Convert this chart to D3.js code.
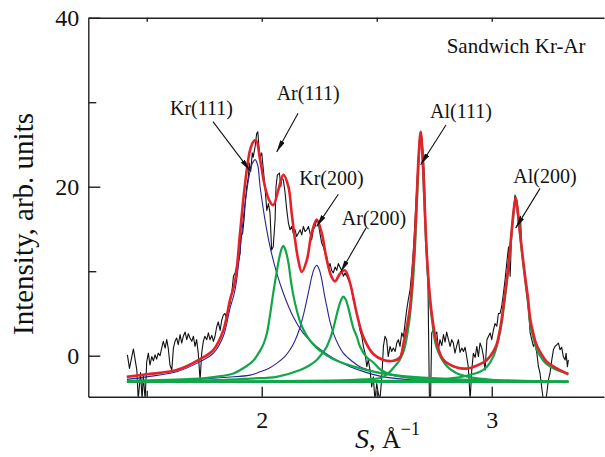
<!DOCTYPE html>
<html>
<head>
<meta charset="utf-8">
<script src="https://cdn.jsdelivr.net/npm/d3@7"></script>
<style>
  body { margin: 0; background: #fff; }
  text { font-family: "Liberation Serif", "Times New Roman", serif; fill: #111; }
</style>
</head>
<body>
<svg id="chart" width="605" height="457"></svg>
<script>
// ---- data: [S (1/Å), intensity] ----
const experiment = [
  [1.416,0.1],[1.425,-1.5],[1.442,0.8],[1.457,-1.7],[1.463,-5.2],[1.473,-2.0],[1.480,-5.2],[1.485,-2.3],[1.493,-5.2],[1.500,-0.7],
  [1.507,0.3],[1.514,-1.1],[1.522,-0.1],[1.529,-0.6],[1.536,0.1],[1.543,-0.4],[1.550,0.3],[1.558,0.0],[1.565,0.9],[1.572,1.7],
  [1.580,0.9],[1.587,1.9],[1.594,0.8],[1.601,-1.1],[1.609,-1.7],[1.616,0.9],[1.623,1.7],[1.630,2.1],[1.637,1.3],[1.645,2.5],
  [1.652,1.5],[1.659,2.3],[1.667,2.8],[1.674,1.9],[1.681,2.6],[1.688,2.1],[1.696,1.7],[1.703,2.3],[1.710,1.1],[1.717,1.9],
  [1.724,0.3],[1.732,-2.9],[1.739,0.3],[1.746,1.7],[1.753,2.3],[1.761,1.9],[1.768,2.7],[1.775,1.9],[1.783,2.4],[1.790,1.7],
  [1.797,2.3],[1.804,3.4],[1.811,4.0],[1.819,3.0],[1.826,4.2],[1.833,4.8],[1.840,5.0],[1.848,4.3],[1.855,5.8],[1.862,6.2],
  [1.870,7.5],[1.877,9.4],[1.884,9.8],[1.891,10.5],[1.898,11.0],[1.906,12.1],[1.909,14.1],[1.917,14.5],[1.923,16.1],[1.928,18.0],
  [1.935,20.0],[1.942,21.2],[1.946,22.8],[1.952,21.8],[1.959,24.0],[1.963,23.5],[1.971,24.7],[1.978,26.3],[1.983,26.5],[1.988,24.7],
  [1.993,23.5],[2.000,24.0],[2.007,22.0],[2.014,20.0],[2.022,17.2],[2.029,18.0],[2.036,16.9],[2.043,12.5],[2.050,12.9],[2.058,16.1],
  [2.062,20.0],[2.068,21.4],[2.077,21.6],[2.083,20.0],[2.087,21.0],[2.094,20.8],[2.101,19.4],[2.109,17.2],[2.116,15.7],[2.123,14.9],
  [2.130,15.3],[2.137,14.5],[2.145,14.9],[2.152,14.1],[2.159,14.5],[2.167,14.9],[2.174,14.3],[2.181,15.3],[2.188,14.7],[2.196,14.9],
  [2.203,15.3],[2.210,14.5],[2.217,13.7],[2.224,14.9],[2.232,15.3],[2.239,16.1],[2.246,15.7],[2.253,14.5],[2.261,13.3],[2.268,12.9],
  [2.275,12.1],[2.283,11.7],[2.290,10.5],[2.297,10.9],[2.304,10.1],[2.311,9.8],[2.319,10.5],[2.326,10.1],[2.333,10.9],[2.340,10.5],
  [2.348,10.1],[2.355,9.4],[2.362,9.8],[2.370,9.4],[2.377,9.0],[2.384,8.6],[2.391,7.8],[2.398,6.6],[2.406,5.8],[2.413,5.0],
  [2.420,4.2],[2.427,3.0],[2.435,2.3],[2.442,1.1],[2.449,0.3],[2.457,-1.3],[2.463,-0.5],[2.471,-1.7],[2.478,-3.7],[2.485,-2.5],
  [2.492,-5.2],[2.500,-3.3],[2.507,-4.5],[2.514,-5.2],[2.522,-2.5],[2.529,1.1],[2.536,2.3],[2.543,1.9],[2.550,-0.1],[2.558,1.1],
  [2.565,0.5],[2.572,0.9],[2.580,0.5],[2.587,1.5],[2.594,1.9],[2.601,1.1],[2.609,2.7],[2.616,2.2],[2.623,3.8],[2.630,5.4],
  [2.637,6.6],[2.645,7.8],[2.653,10.1],[2.662,13.7],[2.671,18.4],[2.680,23.2],[2.688,26.3],[2.695,26.0],[2.701,24.3],[2.708,20.8],
  [2.712,14.9],[2.719,10.5],[2.723,7.8],[2.729,-5.2],[2.734,-5.2],[2.739,2.7],[2.746,3.0],[2.754,2.5],[2.761,2.8],[2.768,0.7],
  [2.775,1.9],[2.783,1.2],[2.790,2.5],[2.797,1.6],[2.804,2.8],[2.811,2.0],[2.819,1.1],[2.826,1.9],[2.833,1.5],[2.840,0.3],
  [2.848,1.2],[2.855,1.9],[2.862,0.4],[2.870,0.9],[2.877,0.5],[2.884,1.0],[2.891,-0.1],[2.898,-1.3],[2.906,-5.2],[2.913,-1.7],
  [2.920,0.3],[2.928,-0.2],[2.935,1.1],[2.942,-0.1],[2.949,1.5],[2.957,0.9],[2.964,-0.1],[2.971,-1.7],[2.979,1.9],[2.986,2.3],
  [2.993,2.7],[3.000,1.9],[3.007,3.0],[3.014,3.8],[3.022,3.5],[3.029,5.0],[3.036,5.0],[3.043,5.8],[3.051,7.4],[3.058,9.0],
  [3.065,10.9],[3.073,12.9],[3.080,9.4],[3.087,14.9],[3.094,16.9],[3.101,19.0],[3.109,18.4],[3.116,16.9],[3.120,15.7],[3.125,16.5],
  [3.130,12.9],[3.138,10.5],[3.145,9.0],[3.152,7.4],[3.160,5.4],[3.167,2.7],[3.174,1.9],[3.181,1.1],[3.188,1.5],[3.196,0.3],
  [3.203,-1.3],[3.210,-2.1],[3.217,-3.7],[3.224,-5.2],[3.236,-5.2],[3.246,-2.9],[3.253,-2.1],[3.261,-0.5],[3.268,0.7],[3.275,1.1],
  [3.283,1.3],[3.290,1.5],[3.297,0.7],[3.304,1.0],[3.311,-0.1],[3.319,-0.5],[3.323,0.3],[3.329,-1.3],[3.333,-0.5]
];

const totalFit = [
  [1.413,-2.5],[1.5,-2.2],[1.63,-1.7],[1.732,-0.4],[1.79,0.7],[1.833,3.0],[1.862,6.6],[1.884,8.8],[1.906,14.6],[1.92,18.5],
  [1.935,22.0],[1.949,24.3],[1.963,25.3],[1.975,25.5],[1.993,23.2],[2.014,20.0],[2.036,18.2],[2.05,17.8],[2.072,19.6],[2.094,21.4],
  [2.116,20.0],[2.13,16.9],[2.145,13.7],[2.159,11.3],[2.174,9.9],[2.196,11.3],[2.217,14.5],[2.239,16.1],[2.261,14.5],[2.283,11.3],
  [2.304,9.3],[2.319,8.8],[2.34,9.7],[2.362,10.1],[2.384,8.6],[2.413,5.0],[2.442,2.2],[2.485,0.2],[2.529,-0.5],[2.572,-0.6],
  [2.601,-0.2],[2.616,1.4],[2.63,3.3],[2.645,5.8],[2.655,9.5],[2.664,13.0],[2.674,18.8],[2.682,23.6],[2.691,26.5],[2.699,23.8],
  [2.707,18.8],[2.717,12.4],[2.727,8.3],[2.74,4.8],[2.76,1.6],[2.79,-0.5],[2.848,-1.4],[2.898,-1.5],[2.949,-1.0],[2.979,-0.5],
  [3.007,0.5],[3.022,1.4],[3.03,2.3],[3.043,4.3],[3.055,6.8],[3.068,9.6],[3.08,12.8],[3.09,15.8],[3.097,17.6],[3.104,18.7],
  [3.111,17.6],[3.118,15.8],[3.13,12.8],[3.145,9.4],[3.158,6.7],[3.167,4.4],[3.181,2.6],[3.196,1.2],[3.225,-0.2],[3.239,-0.7],
  [3.283,-1.5],[3.333,-2.2]
];

const kr111Fit = [
  [1.414,-2.8],[1.5,-2.5],[1.63,-1.9],[1.732,-0.7],[1.79,0.3],[1.833,2.3],[1.862,5.6],[1.884,7.8],[1.906,12.5],[1.92,16.3],
  [1.935,19.5],[1.949,21.8],[1.96,22.8],[1.971,23.2],[1.982,22.6],[1.993,20.0],[2.014,16.1],[2.036,12.9],[2.065,9.8],[2.094,7.4],
  [2.137,4.6],[2.181,2.65],[2.239,1.07],[2.311,-0.3],[2.384,-1.3],[2.457,-2.0],[2.529,-2.5],[2.65,-2.85],[2.85,-3.0],[3.333,-3.08]
];

const kr200Fit = [
  [1.414,-3.0],[1.7,-2.8],[1.85,-2.55],[1.949,-2.3],[1.993,-1.9],[2.03,-1.5],[2.065,-0.9],[2.1,-0.1],[2.123,0.7],[2.145,1.8],
  [2.167,3.4],[2.182,4.9],[2.196,6.6],[2.207,8.0],[2.217,9.3],[2.228,10.3],[2.239,10.7],[2.25,10.2],[2.261,9.0],[2.272,7.3],
  [2.283,5.8],[2.297,4.0],[2.311,2.7],[2.333,1.3],[2.355,0.3],[2.39,-0.6],[2.427,-1.3],[2.48,-1.8],[2.529,-2.1],[2.6,-2.45],
  [2.75,-2.8],[3.0,-3.0],[3.333,-3.08]
];

const ar111Fit = [
  [1.414,-3.0],[1.7,-2.75],[1.8,-2.5],[1.877,-2.1],[1.93,-1.3],[1.963,-0.6],[1.993,0.6],[2.008,1.4],[2.022,2.6],[2.036,4.8],
  [2.05,7.4],[2.065,9.9],[2.078,11.8],[2.087,12.7],[2.094,13.0],[2.102,12.6],[2.116,11.0],[2.126,9.0],[2.137,7.2],[2.152,5.4],
  [2.167,4.0],[2.188,2.7],[2.21,1.8],[2.24,0.9],[2.268,0.3],[2.31,-0.4],[2.355,-0.9],[2.457,-1.7],[2.55,-2.2],[2.7,-2.6],
  [2.9,-2.85],[3.333,-3.05]
];

const ar200Fit = [
  [1.414,-3.05],[1.8,-2.9],[1.95,-2.7],[2.065,-2.5],[2.167,-1.7],[2.21,-1.1],[2.239,-0.5],[2.261,0.2],[2.283,1.1],[2.297,2.0],
  [2.311,3.2],[2.333,5.6],[2.345,6.6],[2.355,7.0],[2.366,6.6],[2.377,5.6],[2.398,3.3],[2.413,2.3],[2.427,1.1],[2.457,-0.2],
  [2.485,-0.8],[2.514,-1.6],[2.558,-2.2],[2.6,-2.45],[2.7,-2.75],[2.9,-2.95],[3.333,-3.08]
];

const al111Fit = [
  [1.414,-3.1],[2.3,-2.95],[2.45,-2.8],[2.52,-2.6],[2.55,-2.1],[2.58,-1.2],[2.6,-0.5],[2.62,0.8],[2.64,3.8],[2.655,7.8],
  [2.665,12.0],[2.675,18.3],[2.683,23.3],[2.691,26.5],[2.699,23.3],[2.707,18.3],[2.717,12.0],[2.727,7.8],[2.74,4.3],[2.76,1.0],
  [2.8,-1.1],[2.85,-2.1],[2.9,-2.5],[3.0,-2.85],[3.333,-3.05]
];

const al200Fit = [
  [1.414,-3.1],[2.5,-3.0],[2.75,-2.85],[2.85,-2.6],[2.9,-2.3],[2.949,-1.9],[2.979,-1.3],[3.007,-0.1],[3.03,2.0],[3.043,3.8],
  [3.055,6.3],[3.068,9.2],[3.08,12.5],[3.09,15.5],[3.097,17.3],[3.104,18.6],[3.111,17.3],[3.118,15.5],[3.13,12.5],[3.145,9.0],
  [3.158,6.2],[3.167,3.8],[3.181,2.1],[3.196,0.7],[3.225,-0.6],[3.239,-1.0],[3.283,-1.7],[3.333,-2.1]
];

const background = [[1.414,-3.1],[3.333,-3.1]];

const xTicks = [2, 3];
const xMinorTicks = [1.5, 2.5];
const xTopTicks = [1.5, 2, 2.5, 3];
const yTicks = [0, 20, 40];
const yMinorTicks = [10, 30];

const peakLabels = ['Kr(111)', 'Ar(111)', 'Kr(200)', 'Ar(200)', 'Al(111)', 'Al(200)'];
const sampleName = 'Sandwich Kr-Ar';

// ---- layout ----
const svg = d3.select('#chart');
const plotLeft = 88.3, plotRight = 604, plotTop = 17.7, plotBottom = 396.7;

const x = d3.scaleLinear().domain([1.246, 3.488]).range([plotLeft, plotRight]);
const y = d3.scaleLinear().domain([-4.85, 40]).range([plotBottom, plotTop]);

const RED = '#e3232b', BLUE = '#25258f', GREEN = '#12a64a';

const defs = svg.append('defs');
defs.append('clipPath').attr('id', 'plot-clip')
  .append('rect')
    .attr('x', plotLeft).attr('y', plotTop)
    .attr('width', plotRight - plotLeft).attr('height', plotBottom - plotTop);

defs.append('marker')
    .attr('id', 'arrowhead')
    .attr('viewBox', '0 0 12 5')
    .attr('markerUnits', 'userSpaceOnUse')
    .attr('markerWidth', 12).attr('markerHeight', 5)
    .attr('refX', 12).attr('refY', 2.5)
    .attr('orient', 'auto')
  .append('path')
    .attr('d', 'M0,0L12,2.5L0,5Z')
    .attr('fill', '#111');

const plot = svg.append('g').attr('clip-path', 'url(#plot-clip)');

const smooth = d3.line()
  .x(d => x(d[0]))
  .y(d => y(d[1]))
  .curve(d3.curveCatmullRom.alpha(0.5));

const raw = d3.line()
  .x(d => x(d[0]))
  .y(d => y(d[1]));

// experimental curve
plot.append('path')
  .datum(experiment)
  .attr('fill', 'none')
  .attr('stroke', '#111')
  .attr('stroke-width', 1.1)
  .attr('stroke-linejoin', 'round')
  .attr('d', raw);

// Kr components (blue)
[kr111Fit, kr200Fit].forEach(series => {
  plot.append('path')
    .datum(series)
    .attr('fill', 'none')
    .attr('stroke', BLUE)
    .attr('stroke-width', 1.1)
    .attr('d', smooth);
});

// Ar and Al components + background (green)
[background, ar111Fit, ar200Fit, al111Fit, al200Fit].forEach(series => {
  plot.append('path')
    .datum(series)
    .attr('fill', 'none')
    .attr('stroke', GREEN)
    .attr('stroke-width', 2.2)
    .attr('d', series === background ? raw : smooth);
});

// total fit (red)
plot.append('path')
  .datum(totalFit)
  .attr('fill', 'none')
  .attr('stroke', RED)
  .attr('stroke-width', 2.6)
  .attr('d', smooth);

// ---- axes ----
const axisStroke = g => {
  g.selectAll('path, line').attr('stroke', '#222').attr('stroke-width', 1.4);
  g.selectAll('text').style('font-family', '"Liberation Serif", serif').attr('fill', '#111');
};

svg.append('g')
  .attr('transform', `translate(${plotLeft},0)`)
  .call(d3.axisLeft(y).tickValues(yTicks).tickSize(-12).tickSizeOuter(0).tickPadding(9).tickFormat(d3.format('d')))
  .call(axisStroke)
  .call(g => g.selectAll('text').attr('font-size', 24).attr('dy', '0.34em'));

svg.append('g')
  .attr('transform', `translate(${plotLeft},0)`)
  .call(d3.axisLeft(y).tickValues(yMinorTicks).tickSize(-8).tickFormat(''))
  .call(axisStroke)
  .call(g => g.select('.domain').remove());

svg.append('g')
  .attr('transform', `translate(0,${plotBottom})`)
  .call(d3.axisBottom(x).tickValues(xTicks).tickSize(-10).tickSizeOuter(0).tickPadding(14).tickFormat(d3.format('d')))
  .call(axisStroke)
  .call(g => g.selectAll('text').attr('font-size', 24));

svg.append('g')
  .attr('transform', `translate(0,${plotBottom})`)
  .call(d3.axisBottom(x).tickValues(xMinorTicks).tickSize(-6).tickFormat(''))
  .call(axisStroke)
  .call(g => g.select('.domain').remove());

svg.append('g')
  .attr('transform', `translate(0,${plotTop})`)
  .call(d3.axisTop(x).tickValues(xTopTicks).tickSize(-4).tickSizeOuter(0).tickFormat(''))
  .call(axisStroke);

// axis titles
svg.append('text')
  .attr('transform', `translate(33,224) rotate(-90)`)
  .attr('text-anchor', 'middle')
  .attr('font-size', 29)
  .text('Intensity, arb. units');

const xTitle = svg.append('text')
  .attr('x', 355)
  .attr('y', 448)
  .attr('font-size', 26);
xTitle.append('tspan').attr('font-style', 'italic').attr('font-size', 28).text('S');
xTitle.append('tspan').text(', Å');
xTitle.append('tspan').attr('font-size', 18).attr('dy', -13).text('−1');

// ---- annotations (label anchor, arrow tail, arrow tip in data units) ----
const annotationLayout = [
  { at: [1.601, 28.5], from: [1.788, 27.7], to: [1.949, 21.9] },
  { at: [2.065, 30.3], from: [2.158, 28.7], to: [2.065, 24.1] },
  { at: [2.163, 20.2], from: [2.333, 19.1], to: [2.239, 15.3] },
  { at: [2.348, 15.5], from: [2.453, 15.1], to: [2.343, 9.9] },
  { at: [2.732, 28.1], from: [2.801, 27.3], to: [2.691, 22.6] },
  { at: [3.094, 20.4], from: [3.210, 19.8], to: [3.104, 15.1] }
];

const notes = svg.append('g');
peakLabels.forEach((label, i) => {
  const a = annotationLayout[i];
  notes.append('text')
    .attr('x', x(a.at[0]))
    .attr('y', y(a.at[1]))
    .attr('font-size', 20)
    .text(label);
  notes.append('line')
    .attr('x1', x(a.from[0])).attr('y1', y(a.from[1]))
    .attr('x2', x(a.to[0])).attr('y2', y(a.to[1]))
    .attr('stroke', '#111')
    .attr('stroke-width', 1.1)
    .attr('marker-end', 'url(#arrowhead)');
});

svg.append('text')
  .attr('x', x(2.804))
  .attr('y', y(35.8))
  .attr('font-size', 21)
  .text(sampleName);
</script>
</body>
</html>
